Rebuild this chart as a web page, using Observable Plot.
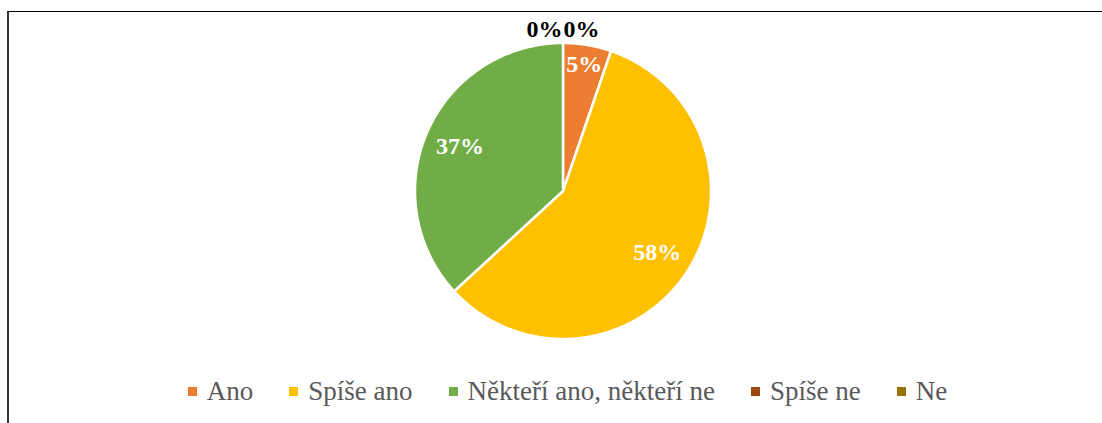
<!DOCTYPE html>
<html>
<head>
<meta charset="utf-8">
<script src="https://cdn.jsdelivr.net/npm/d3@7"></script>
<script src="https://cdn.jsdelivr.net/npm/@observablehq/plot@0.6"></script>
<style>
  html, body { margin: 0; padding: 0; background: #fff; }
  #wrap { position: relative; width: 1102px; height: 423px; overflow: hidden; }
  #frame { position: absolute; left: 7px; top: 11px; right: -4px; bottom: -4px;
           border-top: 1.5px solid #000; border-left: 2px solid #333; pointer-events: none; }
  #legend { display: flex; justify-content: center; gap: 36px; padding-left: 33px;
            font-family: 'Liberation Serif'; font-size: 27px;
            color: #595959; height: 53px; align-items: center; margin-top: -5px; }
  #legend .item { display: flex; align-items: center; white-space: nowrap; }
  #legend .sw { width: 9px; height: 9px; margin-right: 10px; display: inline-block; }
  svg text { font-family: 'Liberation Serif'; }
</style>
</head>
<body>
<div id="wrap">
  <div id="chart"></div>
  <div id="legend"></div>
  <div id="frame"></div>
</div>
<script>
// Data
const categories = ["Ano", "Spíše ano", "Někteří ano, někteří ne", "Spíše ne", "Ne"];
const counts = [1, 11, 7, 0, 0];
const colors = ["#ED7D31", "#FFC000", "#70AD47", "#9E480E", "#997300"];

const data = categories.map((c, i) => ({cat: c, count: counts[i]}));
const total = d3.sum(counts);
const pct = d3.format(".0%");

const arcs = d3.pie().sort(null).value(d => d.count)(data);

// slice polygons (center + arc) in unit coordinates
const polys = [];
arcs.forEach(a => {
  if (a.data.count <= 0) return;
  const steps = Math.max(2, Math.ceil((a.endAngle - a.startAngle) / (Math.PI / 360)));
  polys.push({cat: a.data.cat, x: 0, y: 0});
  for (let s = 0; s <= steps; s++) {
    const t = a.startAngle + (a.endAngle - a.startAngle) * s / steps;
    polys.push({cat: a.data.cat, x: Math.sin(t), y: Math.cos(t)});
  }
  polys.push({cat: a.data.cat, x: 0, y: 0});
});

// labels inside slices
const inside = arcs.filter(a => a.data.count > 0).map(a => {
  const mid = (a.startAngle + a.endAngle) / 2;
  const share = a.data.count / total;
  const r = share < 0.1 ? 0.87 : 0.76;
  return {text: pct(share), x: Math.sin(mid) * r, y: Math.cos(mid) * r};
});
// zero-value slices: labels outside, side by side
const zeros = arcs.filter(a => a.data.count === 0);
const zeroMarks = zeros.map((a, k) => {
  const mid = (a.startAngle + a.endAngle) / 2;
  const d = {text: pct(0), x: Math.sin(mid) * 1.09, y: Math.cos(mid) * 1.09};
  return Plot.text([d], {x: "x", y: "y", text: "text", fill: "#000", fontSize: 24, fontWeight: "bold",
                         dx: (k - (zeros.length - 1) / 2) * 37});
});

const W = 1102, H = 370;
const cx = 562.5, cy = 190.5, R = 148;

const chart = Plot.plot({
  width: W,
  height: H,
  marginLeft: cx - R,
  marginRight: W - (cx + R),
  marginTop: cy - R,
  marginBottom: H - (cy + R),
  x: {domain: [-1, 1], axis: null},
  y: {domain: [-1, 1], axis: null},
  color: {domain: categories, range: colors},
  style: {fontFamily: "Liberation Serif", background: "transparent", overflow: "visible"},
  marks: [
    Plot.line(polys, {x: "x", y: "y", z: "cat", fill: "cat", stroke: "#fff", strokeWidth: 2.5,
                      strokeLinejoin: "round", curve: "linear"}),
    Plot.text(inside, {x: "x", y: "y", text: "text", fill: "#fff", fontSize: 24, fontWeight: "bold"}),
    ...zeroMarks
  ]
});
document.getElementById("chart").appendChild(chart);

const legend = document.getElementById("legend");
categories.forEach((c, i) => {
  const it = document.createElement("span");
  it.className = "item";
  const sw = document.createElement("span");
  sw.className = "sw";
  sw.style.background = colors[i];
  it.appendChild(sw);
  it.appendChild(document.createTextNode(c));
  legend.appendChild(it);
});
</script>
</body>
</html>
